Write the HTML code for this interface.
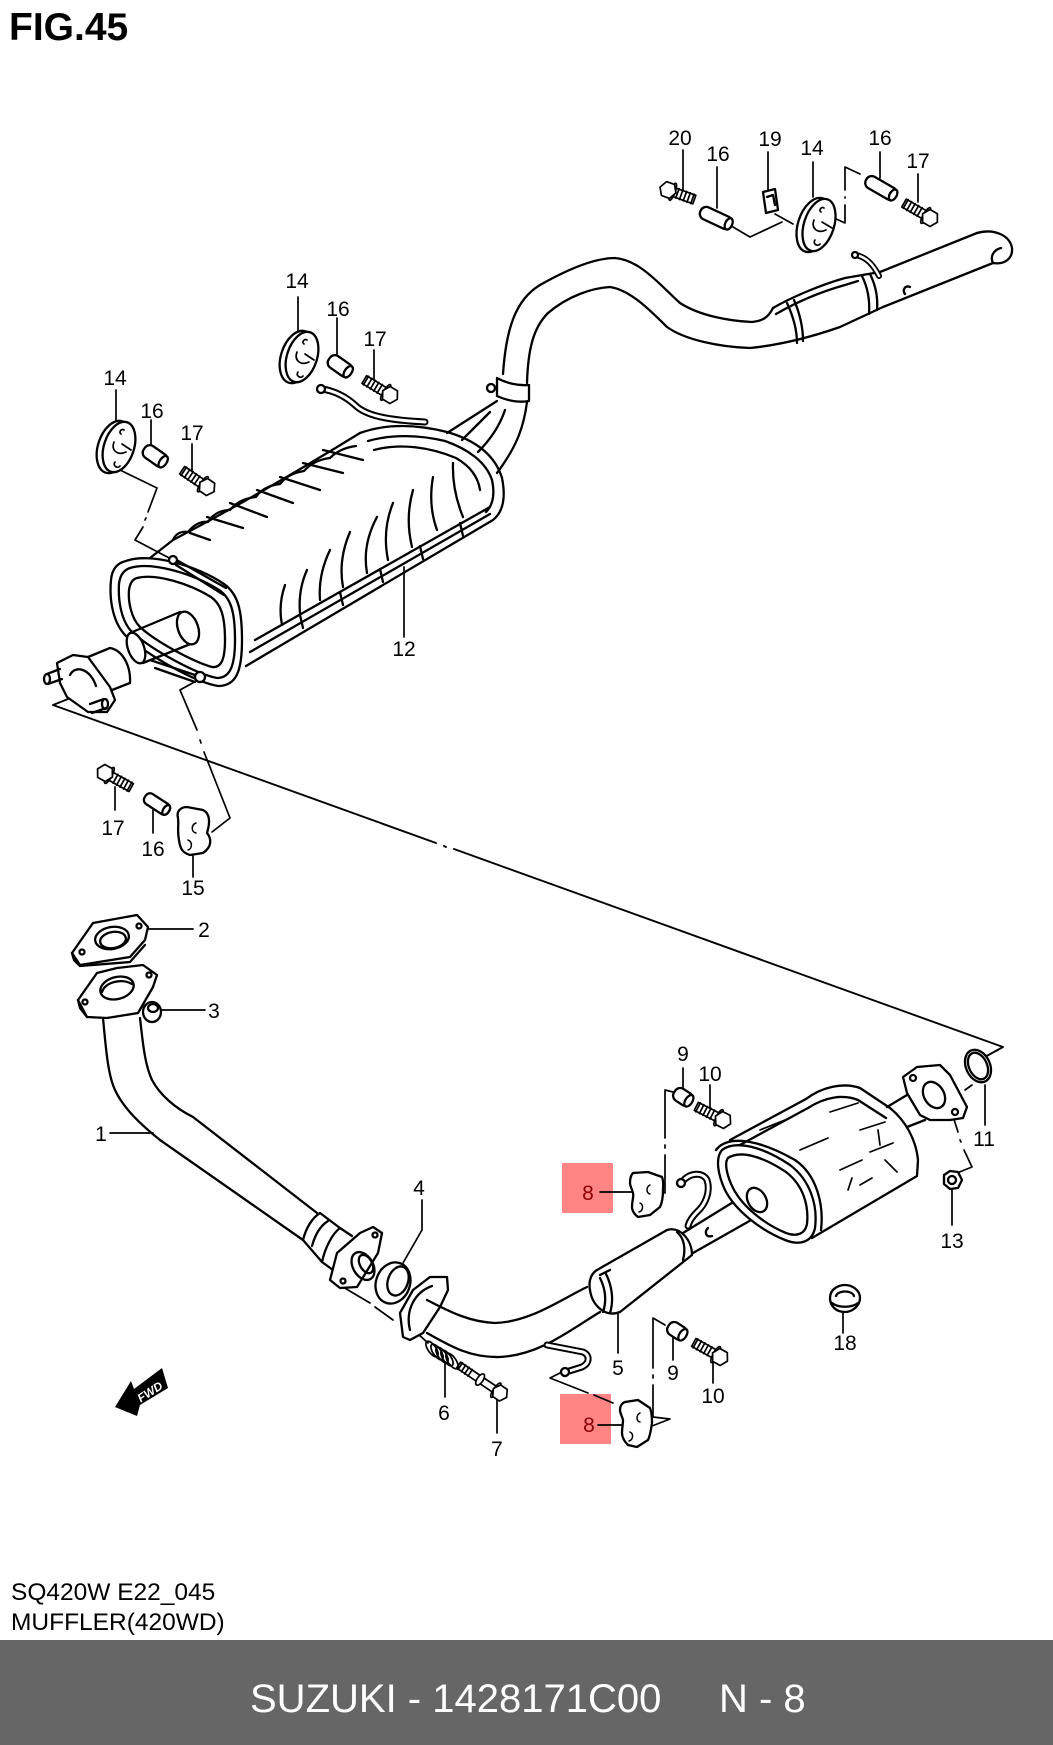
<!DOCTYPE html>
<html><head><meta charset="utf-8">
<style>
html,body{margin:0;padding:0;background:#fff;}
body{width:1053px;height:1745px;position:relative;overflow:hidden;}
svg{position:absolute;left:0;top:0;display:block;}
</style></head><body>
<svg width="1053" height="1745" viewBox="0 0 1053 1745" xmlns="http://www.w3.org/2000/svg">
<rect x="0" y="0" width="1053" height="1745" fill="#fff"/>
<text x="9" y="40" font-family="Liberation Sans, Arial, sans-serif" font-weight="bold" font-size="39" fill="#000">FIG.45</text>

<rect x="562" y="1163" width="51" height="50" fill="#ff8585"/>
<rect x="560" y="1394" width="51" height="50" fill="#ff8585"/>

<g fill="none" stroke="#000" stroke-width="2.3" stroke-linecap="round" stroke-linejoin="round">

<path d="M73,697 L53,705 L436,843 M444,846 L446,847 M454,849 L1003,1047 L983,1058" stroke-width="1.9"/>
<path d="M733,227 L750,237 L782,222 M775,214 L793,224" stroke-width="1.7"/>
<path d="M860,174 L845,167 L845,190 M845,197 L845,198 M845,205 L845,223 L823,213" stroke-width="1.7"/>
<path d="M120,470 L157,488 L148,512 M146,518 L145,520 M143,527 L135,540 L173,560" stroke-width="1.7"/>
<path d="M198,680 L180,690 L197,730 M200,740 L201,743 M204,752 L230,818 L212,832" stroke-width="1.7"/>
<path d="M343,1287 L370,1303 M375,1307 L393,1320 M417,1333 L428,1343" stroke-width="1.7"/>
<path d="M677,1093 L665,1090 L665,1138 M665,1145 L665,1148 M665,1155 L665,1193 L657,1190" stroke-width="1.7"/>
<path d="M665,1325 L653,1318 L653,1368 M653,1375 L653,1378 M653,1385 L653,1417 L670,1419 L652,1426" stroke-width="1.7"/>
<path d="M562,1372 L550,1378 L588,1393 M594,1395 L613,1403" stroke-width="1.7"/>
<path d="M952,1113 L958,1132 M960,1140 L961,1142 M964,1150 L972,1167 L957,1173" stroke-width="1.7"/>
<path d="M965,1090 L972,1085" stroke-width="1.7"/>

<g stroke-width="1.7">
<path d="M683,150 L683,193"/><path d="M717,167 L717,208"/><path d="M768,152 L768,192"/>
<path d="M813,162 L813,197"/><path d="M880,152 L880,178"/><path d="M918,174 L918,202"/>
<path d="M298,297 L298,332"/><path d="M337,318 L337,357"/><path d="M374,350 L374,385"/>
<path d="M116,390 L116,422"/><path d="M151,420 L151,448"/><path d="M192,444 L192,477"/>
<path d="M404,567 L404,637"/>
<path d="M115,787 L115,810"/><path d="M153,810 L153,833"/><path d="M193,853 L193,877"/>
<path d="M148,929 L193,929"/><path d="M162,1010 L205,1010"/><path d="M110,1133 L153,1133"/>
<path d="M422,1200 L422,1230 L403,1263"/>
<path d="M445,1363 L445,1397"/><path d="M497,1397 L497,1433"/>
<path d="M683,1068 L683,1092"/><path d="M710,1085 L710,1108"/>
<path d="M600,1192 L632,1192"/>
<path d="M985,1085 L985,1125"/><path d="M952,1190 L952,1225"/>
<path d="M618,1293 L618,1353"/><path d="M843,1313 L843,1333"/>
<path d="M673,1337 L673,1360"/><path d="M713,1360 L713,1383"/>
<path d="M598,1425 L622,1425"/>
</g>

<!-- TAIL PIPE -->
<path d="M447,433 L497,401"/>
<path d="M503,374 C506,330 515,300 540,285 C570,268 595,258 615,258 C640,260 660,285 680,303 C700,316 730,321 752,322 C762,321 768,318 773,308"/>
<path d="M527,383 C528,350 533,328 548,313 C568,296 592,288 610,287 C630,290 650,310 667,327 C685,340 720,347 750,348"/>
<path d="M773,308 C790,298 820,285 845,278 L880,272 L977,233"/>
<path d="M776,314 C795,303 820,292 845,285 L858,281"/>
<path d="M750,348 C770,346 800,341 840,327 L883,307 L993,263"/>
<path d="M977,233 C995,228 1010,236 1012,248 C1013,258 1005,265 993,263"/>
<path d="M993,263 C990,257 993,250 1001,248"/>
<path d="M787,303 C793,316 797,330 797,343"/><path d="M794,300 C800,314 803,328 803,341"/>
<path d="M862,276 C868,288 870,300 869,314"/><path d="M870,274 C876,286 878,298 877,310"/>
<path d="M905,294 C902,290 905,285 910,287"/>
<path d="M856,255 C866,257 873,264 879,276" stroke-width="6"/>
<path d="M856,255 C866,257 873,264 879,276" stroke="#fff" stroke-width="2.5"/>
<circle cx="855" cy="255" r="3" fill="#fff"/>
<path d="M497,378 L497,396 C508,401 518,403 529,401 L529,385 C518,386 506,383 497,378 Z" fill="#fff"/>
<circle cx="491" cy="388" r="4"/>
<path d="M527,402 C524,425 518,445 497,473"/>
<path d="M490,412 L462,440"/><path d="M505,410 C500,425 490,440 478,452"/>

<!-- MUFFLER 12 -->
<path d="M150,558 L173,540 C230,510 300,470 360,433"/>
<path d="M173,540 C176,533 182,531 188,532 C194,524 202,521 208,522 C214,512 224,510 230,510 C238,500 248,498 256,497 C262,488 272,485 280,484 C288,474 298,472 304,471 C312,462 322,459 330,458 C338,450 348,447 356,446"/>
<path d="M360,433 C385,424 415,424 447,432 C475,440 495,455 502,478 C506,498 503,512 493,520 L246,666"/>
<path d="M368,441 C392,434 420,435 445,441 C468,449 486,462 492,480 C495,494 493,505 486,512"/>
<path d="M374,450 C400,443 430,447 456,458 C470,466 478,476 480,490"/>
<path d="M190,533 L210,540 M207,517 L243,528 M230,503 L267,517 M257,490 L293,503 M280,477 L320,490 M303,463 L343,473 M323,450 L363,460"/>
<path d="M307,570 Q298,590 300,613 M330,550 Q318,575 320,600 M350,532 Q338,560 343,587 M377,517 Q362,545 367,573 M393,503 Q382,530 388,560 M413,490 Q405,518 412,547 M433,477 Q428,505 437,530 M453,463 Q452,490 463,517 M285,585 Q278,605 282,625"/>
<path d="M255,640 L490,507"/><path d="M250,652 L490,514"/>
<path d="M300,615 L303,628 M340,592 L343,605 M380,569 L383,582 M420,546 L423,559 M460,523 L463,536"/>
<path d="M126,561 C150,552 198,566 224,584 C238,594 242,610 242,640 C242,672 236,686 218,686 C194,682 148,655 126,636 C113,623 109,600 111,580 C112,569 117,563 126,561 Z" fill="#fff"/>
<path d="M130,568 C152,561 194,574 219,590 C231,598 235,612 235,640 C235,666 230,678 217,678 C196,674 152,650 132,632 C121,621 118,600 119,584 C120,575 124,570 130,568 Z"/>
<path d="M137,578 C156,573 190,584 211,597 C221,604 225,616 225,640 C225,660 221,668 212,667 C194,662 156,642 140,627 C131,618 128,601 129,590 C130,583 133,579 137,578 Z"/>
<path d="M173,558 L226,588 M176,565 L224,595"/>
<circle cx="173" cy="560" r="4" fill="#fff"/>
<path d="M130,633 L180,612 M143,663 L193,643"/>
<ellipse cx="188" cy="628" rx="10" ry="17" transform="rotate(-20 188 628)" fill="#fff"/>
<ellipse cx="136" cy="648" rx="8" ry="16" transform="rotate(-20 136 648)" fill="#fff"/>
<path d="M150,660 L198,676 M155,668 L195,682"/>
<circle cx="200" cy="677" r="5" fill="#fff"/>
<path d="M88,657 L110,648 C122,650 131,665 130,683 L112,690"/>
<path d="M57,663 L73,655 L88,657 L110,687 L115,700 L107,712 L88,712 L67,697 L60,683 Z" fill="#fff"/>
<path d="M70,675 C75,665 90,668 96,686"/>
<path d="M47,674 L60,669 M48,684 L62,679"/><ellipse cx="47" cy="679" rx="3" ry="5"/>
<path d="M90,704 L104,699 M92,713 L106,708"/><ellipse cx="105" cy="704" rx="3" ry="5"/>

<path d="M322,389 C335,391 345,396 355,405 C365,415 385,420 425,422" stroke-width="7"/>
<path d="M322,389 C335,391 345,396 355,405 C365,415 385,420 425,422" stroke="#fff" stroke-width="3"/>
<circle cx="321" cy="389" r="4" fill="#fff"/>

<!-- grommets 14 -->
<g fill="#fff">
<ellipse cx="814" cy="225" rx="16" ry="28" transform="rotate(18 814 225)"/>
<ellipse cx="819" cy="225" rx="15" ry="27" transform="rotate(18 819 225)"/>
<ellipse cx="297" cy="357" rx="16" ry="27" transform="rotate(18 297 357)"/>
<ellipse cx="302" cy="357" rx="15" ry="26" transform="rotate(18 302 357)"/>
<ellipse cx="114" cy="447" rx="16" ry="27" transform="rotate(18 114 447)"/>
<ellipse cx="119" cy="447" rx="15" ry="26" transform="rotate(18 119 447)"/>
</g>
<g stroke-width="1.7">
<path d="M814,220 C811,228 817,234 826,230 M821,212 C818,210 822,206 824,208 M815,240 C812,244 818,247 820,244 M822,222 L832,228"/>
<path d="M297,352 C294,360 300,366 309,362 M304,344 C301,342 305,338 307,340 M298,372 C295,376 301,379 303,376 M305,354 L314,360"/>
<path d="M114,442 C111,450 117,456 126,452 M121,434 C118,432 122,428 124,430 M115,462 C112,466 118,469 120,466 M122,444 L131,450"/>
</g>

<!-- spacers -->
<g fill="#fff">
<g transform="translate(716,218) rotate(25)"><rect x="-17" y="-6.5" width="34" height="13" rx="6"/><ellipse cx="14" cy="0" rx="3.5" ry="6"/></g>
<g transform="translate(881,188) rotate(30)"><rect x="-17" y="-6.5" width="34" height="13" rx="6"/><ellipse cx="14" cy="0" rx="3.5" ry="6"/></g>
<g transform="translate(340,366) rotate(35)"><rect x="-13" y="-7" width="26" height="14" rx="6"/><ellipse cx="10" cy="0" rx="3.5" ry="6.5"/></g>
<g transform="translate(155,456) rotate(35)"><rect x="-13" y="-7" width="26" height="14" rx="6"/><ellipse cx="10" cy="0" rx="3.5" ry="6.5"/></g>
<g transform="translate(157,804) rotate(33)"><rect x="-14" y="-6" width="28" height="12" rx="5"/><ellipse cx="11" cy="0" rx="3" ry="5.5"/></g>
<g transform="translate(683,1097) rotate(33)"><rect x="-10" y="-7" width="20" height="14" rx="6"/><ellipse cx="7" cy="0" rx="3.5" ry="6.5"/></g>
<g transform="translate(677,1331) rotate(33)"><rect x="-10" y="-7" width="20" height="14" rx="6"/><ellipse cx="7" cy="0" rx="3.5" ry="6.5"/></g>
</g>

<!-- bolts -->
<g fill="#fff" stroke-width="1.7">
<g transform="translate(668,190) rotate(20)"><rect x="6" y="-4.5" width="22" height="9"/><path d="M10,-5 L10,5 M14,-5 L14,5 M18,-5 L18,5 M22,-5 L22,5 M26,-5 L26,5" fill="none"/><ellipse cx="5" cy="0" rx="2.5" ry="9"/><polygon points="8.5,0 4.25,7.4 -4.25,7.4 -8.5,0 -4.25,-7.4 4.25,-7.4"/></g>
<g transform="translate(930,218) rotate(210)"><rect x="6" y="-4.5" width="24" height="9"/><path d="M12,-5 L12,5 M16,-5 L16,5 M20,-5 L20,5 M24,-5 L24,5 M28,-5 L28,5" fill="none"/><ellipse cx="5" cy="0" rx="2.5" ry="9"/><polygon points="8.5,0 4.25,7.4 -4.25,7.4 -8.5,0 -4.25,-7.4 4.25,-7.4"/></g>
<g transform="translate(390,395) rotate(211)"><rect x="6" y="-4.5" width="24" height="9"/><path d="M12,-5 L12,5 M16,-5 L16,5 M20,-5 L20,5 M24,-5 L24,5 M28,-5 L28,5" fill="none"/><ellipse cx="5" cy="0" rx="2.5" ry="9"/><polygon points="8.5,0 4.25,7.4 -4.25,7.4 -8.5,0 -4.25,-7.4 4.25,-7.4"/></g>
<g transform="translate(207,487) rotate(214)"><rect x="6" y="-4.5" width="24" height="9"/><path d="M12,-5 L12,5 M16,-5 L16,5 M20,-5 L20,5 M24,-5 L24,5 M28,-5 L28,5" fill="none"/><ellipse cx="5" cy="0" rx="2.5" ry="9"/><polygon points="8.5,0 4.25,7.4 -4.25,7.4 -8.5,0 -4.25,-7.4 4.25,-7.4"/></g>
<g transform="translate(105,773) rotate(29)"><rect x="6" y="-4.5" width="24" height="9"/><path d="M12,-5 L12,5 M16,-5 L16,5 M20,-5 L20,5 M24,-5 L24,5 M28,-5 L28,5" fill="none"/><ellipse cx="5" cy="0" rx="2.5" ry="9"/><polygon points="8.5,0 4.25,7.4 -4.25,7.4 -8.5,0 -4.25,-7.4 4.25,-7.4"/></g>
<g transform="translate(723,1120) rotate(207)"><rect x="6" y="-4.5" width="24" height="9"/><path d="M12,-5 L12,5 M16,-5 L16,5 M20,-5 L20,5 M24,-5 L24,5 M28,-5 L28,5" fill="none"/><ellipse cx="5" cy="0" rx="2.5" ry="9"/><polygon points="8.5,0 4.25,7.4 -4.25,7.4 -8.5,0 -4.25,-7.4 4.25,-7.4"/></g>
<g transform="translate(720,1357) rotate(209)"><rect x="6" y="-4.5" width="24" height="9"/><path d="M12,-5 L12,5 M16,-5 L16,5 M20,-5 L20,5 M24,-5 L24,5 M28,-5 L28,5" fill="none"/><ellipse cx="5" cy="0" rx="2.5" ry="9"/><polygon points="8.5,0 4.25,7.4 -4.25,7.4 -8.5,0 -4.25,-7.4 4.25,-7.4"/></g>
<g transform="translate(500,1393) rotate(214)"><rect x="6" y="-3.5" width="44" height="7"/><path d="M36,-4 L36,4 M40,-4 L40,4 M44,-4 L44,4 M48,-4 L48,4" fill="none"/><ellipse cx="24" cy="0" rx="3" ry="6.5"/><ellipse cx="5" cy="0" rx="2.5" ry="8.5"/><polygon points="8,0 4,7 -4,7 -8,0 -4,-7 4,-7"/></g>
</g>

<path d="M763,192 L775,189 L778,210 L766,213 Z" fill="#fff"/>
<path d="M767,197 L773,195 L775,205"/>

<path d="M187,807 L203,810 C209,813 211,820 207,833 C211,838 213,846 203,853 L190,855 C183,853 180,849 179,840 C177,830 179,825 178,818 C176,811 181,807 187,807 Z" fill="#fff"/>
<path d="M196,823 C191,825 191,832 196,833 M188,840 C193,842 192,849 188,850" stroke-width="1.5"/>

<path d="M72,953 L93,923 L137,915 L148,927 L145,940 L130,957 L80,965 Z" fill="#fff"/>
<path d="M72,953 L74,960 L80,966 L130,962 L145,945"/>
<ellipse cx="112" cy="938" rx="17" ry="11" transform="rotate(-10 112 938)"/>
<ellipse cx="113" cy="940" rx="13" ry="8" transform="rotate(-10 113 940)"/>
<circle cx="82" cy="952" r="2.5"/><circle cx="139" cy="926" r="2.5"/>

<path d="M103,1018 C106,1050 108,1075 115,1090 C122,1105 135,1120 160,1140 L303,1240"/>
<path d="M140,1018 C143,1045 145,1065 152,1080 C160,1095 175,1108 193,1117 L317,1213"/>
<path d="M78,1000 L97,973 L117,968 L143,965 L157,975 L153,987 L138,1013 L107,1018 L87,1017 Z" fill="#fff"/>
<path d="M78,1000 L80,1008 L87,1017"/>
<ellipse cx="117" cy="988" rx="17" ry="11" transform="rotate(-15 117 988)"/>
<path d="M102,992 C105,982 122,978 132,984"/>
<circle cx="85" cy="1002" r="2.5"/><circle cx="149" cy="975" r="2.5"/>
<ellipse cx="152" cy="1012" rx="9" ry="10" fill="#fff"/>
<ellipse cx="153" cy="1008" rx="5" ry="4"/>
<path d="M303,1240 C306,1228 312,1218 320,1213 L340,1228 C332,1234 325,1248 322,1262 Z" fill="#fff"/>
<path d="M312,1246 C315,1235 320,1226 328,1221"/>
<path d="M340,1228 L352,1236 M322,1262 L333,1270"/>
<path d="M330,1280 L337,1253 L360,1233 L373,1227 L382,1233 L378,1253 L357,1287 L340,1288 Z" fill="#fff"/>
<ellipse cx="363" cy="1266" rx="10" ry="15" transform="rotate(-30 363 1266)"/>
<ellipse cx="366" cy="1264" rx="6" ry="10" transform="rotate(-30 366 1264)"/>
<circle cx="343" cy="1281" r="2.5"/><circle cx="375" cy="1235" r="2.5"/>
<ellipse cx="393" cy="1283" rx="17" ry="21" transform="rotate(20 393 1283)" fill="#fff"/>
<ellipse cx="398" cy="1281" rx="10" ry="15" transform="rotate(20 398 1281)"/>
<path d="M403,1337 L400,1313 L413,1290 L430,1277 L447,1277 L448,1290 L440,1307 L423,1333 L410,1340 Z" fill="#fff"/>
<path d="M410,1330 C405,1310 415,1292 432,1286"/>
<path d="M427,1300 C450,1312 470,1322 495,1323 C530,1322 560,1300 587,1287"/>
<path d="M427,1333 C450,1346 470,1358 500,1357 C540,1355 570,1330 600,1312"/>
<g stroke-width="1.7">
<ellipse cx="432" cy="1349" rx="4" ry="9" transform="rotate(-35 432 1349)"/>
<ellipse cx="437" cy="1352" rx="4" ry="9" transform="rotate(-35 437 1352)"/>
<ellipse cx="442" cy="1355" rx="4" ry="9" transform="rotate(-35 442 1355)"/>
<ellipse cx="447" cy="1358" rx="4" ry="9" transform="rotate(-35 447 1358)"/>
<ellipse cx="452" cy="1361" rx="4" ry="9" transform="rotate(-35 452 1361)"/>
</g>
<path d="M547,1345 L583,1352 C590,1355 590,1363 582,1367 L566,1372" stroke-width="7"/>
<path d="M547,1345 L583,1352 C590,1355 590,1363 582,1367 L566,1372" stroke="#fff" stroke-width="3"/>
<circle cx="565" cy="1372" r="4" fill="#fff"/>

<path d="M597,1270 L667,1230 C680,1226 692,1240 692,1255 L620,1312 C605,1318 592,1305 590,1290 C588,1280 592,1273 597,1270 Z" fill="#fff"/>
<path d="M600,1278 C605,1288 607,1300 603,1312 M606,1274 C612,1286 614,1300 610,1313 M600,1275 L610,1270"/>
<path d="M677,1232 C684,1238 686,1248 683,1260"/>
<path d="M683,1233 L748,1193 M693,1253 L760,1215"/>
<path d="M708,1228 C704,1232 706,1238 712,1236"/>
<path d="M682,1182 C690,1172 703,1172 707,1180 C711,1192 705,1205 697,1212 C692,1217 689,1222 688,1226" stroke-width="7"/>
<path d="M682,1182 C690,1172 703,1172 707,1180 C711,1192 705,1205 697,1212 C692,1217 689,1222 688,1226" stroke="#fff" stroke-width="3"/>
<circle cx="681" cy="1183" r="4" fill="#fff"/>

<path d="M633,1173 L648,1172 L662,1177 C664,1182 663,1186 663,1190 C663,1198 662,1203 660,1207 L650,1215 L638,1217 C634,1214 632,1211 632,1207 C632,1200 634,1197 633,1193 C632,1189 630,1186 630,1183 C630,1178 631,1175 633,1173 Z" fill="#fff"/>
<path d="M650,1185 C646,1187 646,1193 650,1194 M640,1203 C644,1205 643,1211 639,1212" stroke-width="1.5"/>
<path d="M625,1402 L638,1400 L650,1408 C652,1413 652,1418 652,1423 C651,1430 650,1436 648,1440 L637,1447 L628,1445 C624,1441 622,1437 622,1433 C622,1428 623,1424 623,1420 C622,1416 620,1413 620,1410 C620,1406 622,1403 625,1402 Z" fill="#fff"/>
<path d="M640,1413 C636,1415 636,1421 640,1422 M630,1432 C634,1434 633,1440 629,1441" stroke-width="1.5"/>

<path d="M730,1140 L806,1099 C822,1087 843,1082 860,1088 L890,1108 C906,1121 916,1140 918,1160 L917,1176 L812,1238" fill="#fff"/>
<path d="M738,1146 L808,1108 C825,1097 843,1094 858,1100 L886,1118"/>
<path d="M716,1150 C728,1134 760,1140 795,1160 C817,1175 824,1205 821,1230"/>
<path d="M722,1150 C735,1140 762,1146 790,1165 C810,1180 818,1205 815,1228 C812,1242 800,1246 785,1240 C760,1230 735,1210 725,1190 C718,1175 715,1158 722,1150 Z" fill="#fff"/>
<path d="M728,1158 C740,1150 762,1156 786,1172 C803,1185 809,1205 807,1224 C805,1234 797,1237 786,1233 C764,1224 742,1206 733,1188 C727,1176 724,1163 728,1158 Z"/>
<ellipse cx="757" cy="1200" rx="9" ry="13" transform="rotate(-30 757 1200)" fill="#fff"/>
<path d="M760,1130 L790,1118 M800,1150 L828,1138 M840,1170 L862,1160 M830,1112 L858,1103 M860,1130 L885,1122 M870,1152 L893,1143 M860,1185 L872,1178 M885,1160 L897,1172 M878,1130 L880,1145 M848,1190 L852,1178" stroke-width="1.7"/>
<path d="M887,1107 L917,1089 M907,1127 L925,1120"/>
<path d="M903,1077 L917,1067 L940,1065 L950,1075 L967,1107 L963,1118 L950,1120 L930,1120 L920,1115 L907,1093 Z" fill="#fff"/>
<ellipse cx="934" cy="1095" rx="10" ry="14" transform="rotate(-30 934 1095)"/>
<circle cx="913" cy="1078" r="3"/><circle cx="955" cy="1112" r="3"/>
<ellipse cx="978" cy="1066" rx="12" ry="17" transform="rotate(-25 978 1066)" fill="#fff"/>
<ellipse cx="978" cy="1066" rx="9" ry="14" transform="rotate(-25 978 1066)"/>
<polygon points="944,1175 950,1171 958,1172 962,1180 958,1188 950,1189 944,1184" fill="#fff"/>
<circle cx="952" cy="1180" r="4"/>
<path d="M830,1298 C830,1288 840,1285 845,1285 C852,1285 860,1290 860,1298 C860,1306 852,1312 845,1312 C836,1312 830,1306 830,1298 Z" fill="#fff"/>
<path d="M836,1296 C838,1290 852,1290 854,1296 M832,1303 C838,1308 852,1308 858,1303"/>
</g>

<polygon points="115,1407 131,1381 134,1389 162,1368 168,1388 140,1405 137,1416" fill="#000"/>
<text x="150" y="1396" font-family="Liberation Sans, Arial, sans-serif" font-weight="bold" font-style="italic" font-size="12" fill="#fff" text-anchor="middle" transform="rotate(-33 150 1392)">FWD</text>

<g font-family="Liberation Sans, Arial, sans-serif" font-size="21" text-anchor="middle" fill="#000">
<text x="680" y="145">20</text><text x="718" y="161">16</text><text x="770" y="146">19</text>
<text x="812" y="155">14</text><text x="880" y="145">16</text><text x="918" y="168">17</text>
<text x="297" y="288">14</text><text x="338" y="316">16</text><text x="375" y="346">17</text>
<text x="115" y="385">14</text><text x="152" y="418">16</text><text x="192" y="440">17</text>
<text x="404" y="656">12</text>
<text x="113" y="835">17</text><text x="153" y="856">16</text><text x="193" y="895">15</text>
<text x="204" y="937">2</text><text x="214" y="1018">3</text><text x="101" y="1141">1</text>
<text x="419" y="1195">4</text><text x="444" y="1420">6</text><text x="497" y="1456">7</text>
<text x="683" y="1061">9</text><text x="710" y="1081">10</text>
<text x="984" y="1146">11</text><text x="952" y="1248">13</text>
<text x="618" y="1375">5</text><text x="845" y="1350">18</text>
<text x="673" y="1380">9</text><text x="713" y="1403">10</text>
<text x="588" y="1200" fill="#8b0000">8</text><text x="589" y="1432" fill="#8b0000">8</text>
</g>

<text x="11" y="1600" font-family="Liberation Sans, Arial, sans-serif" font-size="24.5" fill="#000">SQ420W E22_045</text>
<text x="11" y="1630" font-family="Liberation Sans, Arial, sans-serif" font-size="24.5" fill="#000">MUFFLER(420WD)</text>
<rect x="0" y="1640" width="1053" height="105" fill="#666666"/>
<text x="250" y="1712" font-family="Liberation Sans, Arial, sans-serif" font-size="40" fill="#fff">SUZUKI - 1428171C00</text>
<text x="719" y="1712" font-family="Liberation Sans, Arial, sans-serif" font-size="40" fill="#fff">N - 8</text>
</svg>
</body></html>
